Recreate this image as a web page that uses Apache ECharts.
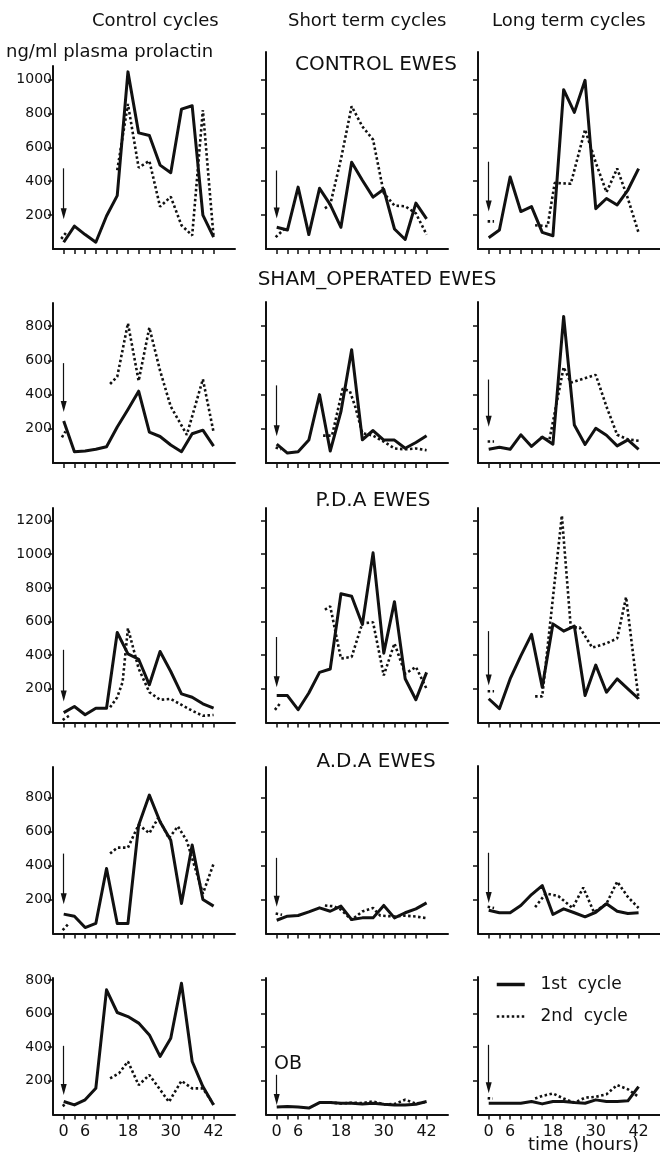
<!DOCTYPE html>
<html><head><meta charset="utf-8">
<script src="https://cdn.jsdelivr.net/npm/echarts@6/dist/echarts.min.js"></script>
<style>html,body{margin:0;padding:0;background:#fff}#c{width:660px;height:1154px}</style>
</head><body><div id="c"></div>
<script>
// ---------- DATA ----------
const HOURS = [0,3,6,9,12,15,18,21,24,27,30,33,36,39,42];
const X_TICKS = HOURS;
const X_LABELS = [0,6,18,30,42];
const COLUMN_TITLES = ['Control cycles','Short term cycles','Long term cycles'];
const GROUP_TITLES = ['CONTROL EWES','SHAM_OPERATED EWES','P.D.A EWES','A.D.A EWES','OB'];
const Y_TITLE = 'ng/ml plasma prolactin';
const X_TITLE = 'time (hours)';
const SERIES_NAMES = ['1st cycle','2nd cycle'];
const Y_TICKS = [[200,400,600,800,1000],[200,400,600,800],[200,400,600,800,1000,1200],[200,400,600,800],[200,400,600,800]];

// Control ewes (1st cycle on HOURS; 2nd cycle as [hour, value], null = gap)
const controlCtrl1 = [40,135,85,40,195,315,1045,685,670,495,450,825,845,200,70];
const controlCtrl2 = [[-0.7,60],[0.8,100],null,[15,465],[18,855],[21,480],[24,520],[27,250],[30,308],[33,140],[36,80],[39,820],[42,70]];
const controlShort1 = [128,112,365,85,358,262,128,512,406,306,352,118,56,271,178];
const controlShort2 = [[-0.3,70],[2.5,125],null,[13.5,240],[15,262],[18,530],[21,842],[24,723],[27,645],[30,330],[33,256],[36,252],[39,210],[42,85]];
const controlLong1 = [66,112,425,221,250,98,78,940,806,995,238,298,260,348,474];
const controlLong2 = [[-0.3,163],[1.5,163],null,[13,140],[16.5,135],[18.5,390],[23,385],[27,705],[30,510],[33,335],[36,475],[39,298],[42,96]];

// Sham-operated ewes
const shamCtrl1 = [245,66,70,80,95,210,313,420,180,155,105,66,171,192,99];
const shamCtrl2 = [[-0.5,150],[0.5,185],null,[13,462],[15,505],[18,817],[21,480],[24,792],[27,540],[30,330],[34.5,165],[39,490],[42,180]];
const shamShort1 = [110,58,66,134,400,70,300,662,136,190,134,134,86,120,160];
const shamShort2 = [[-0.3,90],[1.2,80],null,[13,160],[15.5,160],[18.5,435],[20.5,420],[22,330],[24,175],[27,160],[30,125],[33,85],[36,80],[39,85],[42,75]];
const shamLong1 = [80,92,80,165,97,152,110,857,222,108,203,162,100,135,80];
const shamLong2 = [[-0.3,126],[1.5,126],null,[14.5,150],[17,135],[21,560],[23,470],[30,515],[33,330],[36,165],[39,138],[42,130]];

// P.D.A ewes
const pdaCtrl1 = [59,95,46,85,85,535,408,376,224,422,303,170,150,111,85];
const pdaCtrl2 = [[-0.3,15],[1.5,40],null,[13,90],[15,150],[16.5,240],[18,560],[21,320],[24,180],[27,135],[30,140],[33,105],[36,70],[39,40],[42,45]];
const pdaShort1 = [160,160,76,175,298,318,765,750,582,1008,412,718,260,135,298];
const pdaShort2 = [[-0.5,75],[1,115],null,[13.5,670],[15,690],[18,380],[21,390],[24,590],[27,595],[30,280],[33,470],[36,290],[39,330],[42,200]];
const pdaLong1 = [141,82,259,396,524,210,586,543,573,161,341,180,259,200,141];
const pdaLong2 = [[-0.3,186],[1.5,186],null,[13,155],[15,155],[20.5,1230],[23,565],[25.5,565],[29,445],[33,470],[36,500],[38.5,745],[42,140]];

// A.D.A ewes
const adaCtrl1 = [114,102,35,59,382,59,59,637,814,657,549,176,520,200,161];
const adaCtrl2 = [[-0.3,20],[1.5,60],null,[13,470],[15,505],[18,505],[21,640],[24,590],[26.5,680],[29.5,560],[32,630],[34.5,545],[39,235],[42,410]];
const adaShort1 = [78,102,106,127,151,131,161,82,92,92,165,92,122,145,180];
const adaShort2 = [[-0.3,118],[1.5,110],null,[13.5,165],[16,160],[18,140],[21,80],[24,130],[27,150],[29,105],[33,100],[36,105],[39,100],[42,90]];
const adaLong1 = [137,122,122,165,229,282,112,145,122,98,125,175,131,118,122];
const adaLong2 = [[-0.3,157],[1.5,150],null,[13,155],[16,235],[19.5,220],[23.5,150],[26.5,270],[29.5,125],[33,175],[36,305],[39,215],[42,150]];

// OB ewes
const obCtrl1 = [77,57,87,156,741,606,582,543,473,345,453,780,315,166,57];
const obCtrl2 = [[-0.3,50],[1,70],null,[13,215],[15.5,245],[18,315],[21,175],[24,235],[29.5,75],[33,200],[36,155],[39,155],[42,60]];
const obShort1 = [44,48,44,38,71,71,67,67,63,67,61,57,57,61,77];
const obShort2 = [[12,70],[15,72],[18,65],[21,70],[24,68],[27,78],[30,60],[33,62],[36,88],[39,65],[42,75]];
const obLong1 = [67,67,67,67,77,63,77,77,71,67,87,77,77,81,166];
const obLong2 = [[-0.3,97],[1.2,95],null,[13,95],[15,110],[18,125],[21,95],[24,70],[27,100],[30,105],[33,120],[36,175],[39,150],[42,105]];

// Arrow markers at hour 0 (start value -> tip value)
const ARROW_FROM = [[476,463,515],[584,454,488],[432,508,543],[470,445,475],[408,236,414]];
const ARROW_TO   = [[176,180,222],[299,157,212],[125,210,220],[173,157,180],[117,57,127]];

const FIRST = [
  [controlCtrl1, controlShort1, controlLong1],
  [shamCtrl1, shamShort1, shamLong1],
  [pdaCtrl1, pdaShort1, pdaLong1],
  [adaCtrl1, adaShort1, adaLong1],
  [obCtrl1, obShort1, obLong1]
];
const SECOND = [
  [controlCtrl2, controlShort2, controlLong2],
  [shamCtrl2, shamShort2, shamLong2],
  [pdaCtrl2, pdaShort2, pdaLong2],
  [adaCtrl2, adaShort2, adaLong2],
  [obCtrl2, obShort2, obLong2]
];

// ---------- LAYOUT ----------
const COL_X = [53, 266, 478];
const PLOT_W = 182;
const ROW_ZERO = [249, 463, 722.5, 933.5, 1114.5];
const ROW_K = [0.1695, 0.171, 0.1683, 0.170, 0.1683];
const PANEL_TOP = [[66,52,52],[303,302,302],[508,508,508],[767,767,766],[978,978,977]];
const INK = '#111';
const FONT = "'DejaVu Sans', sans-serif";
// narrow filled arrow head inside a square box (pointing along the line)
const ARROW_HEAD = 'path://M0,0 M11,11 M5.5,0 L8.5,11 L2.5,11 Z';

const grid = [], xAxis = [], yAxis = [], series = [];
let idx = 0;
for (let r = 0; r < 5; r++) {
  for (let c = 0; c < 3; c++) {
    const top = PANEL_TOP[r][c];
    const h = ROW_ZERO[r] - top;
    grid.push({left: COL_X[c], top: top, width: PLOT_W, height: h});
    xAxis.push({
      gridIndex: idx, type: 'value', min: -3, max: 48,
      axisLine: {show: true, onZero: false, lineStyle: {color: INK, width: 2}},
      axisTick: {show: true, customValues: X_TICKS, length: 5, lineStyle: {color: INK, width: 1.5}},
      axisLabel: {show: r === 4, customValues: X_LABELS, margin: 9, fontSize: 16, color: INK, fontFamily: FONT, formatter: v => String(v)},
      splitLine: {show: false}
    });
    yAxis.push({
      gridIndex: idx, type: 'value', min: 0, max: h / ROW_K[r],
      axisLine: {show: true, onZero: false, lineStyle: {color: INK, width: 2}},
      axisTick: {show: true, customValues: Y_TICKS[r], length: 5, lineStyle: {color: INK, width: 1.5}},
      axisLabel: {show: c === 0, customValues: Y_TICKS[r], margin: 1, fontSize: 14, color: INK, fontFamily: FONT, formatter: v => String(v)},
      splitLine: {show: false}
    });
    series.push({
      type: 'line', name: SERIES_NAMES[0], xAxisIndex: idx, yAxisIndex: idx,
      data: HOURS.map((hh, k) => [hh, FIRST[r][c][k]]),
      symbol: 'none', color: INK, silent: true,
      lineStyle: {color: INK, width: 3, join: 'round'},
      emphasis: {disabled: true}, z: 3,
      markLine: {
        silent: true, animation: false,
        symbol: ['none', ARROW_HEAD], symbolSize: 11,
        itemStyle: {color: INK},
        lineStyle: {color: INK, width: 1.2, type: 'solid'},
        label: {show: false}, emphasis: {disabled: true},
        data: [[{coord: [0, ARROW_FROM[r][c]]}, {coord: [0, ARROW_TO[r][c] + 32]}]]
      }
    });
    series.push({
      type: 'line', name: SERIES_NAMES[1], xAxisIndex: idx, yAxisIndex: idx,
      data: SECOND[r][c].map(p => p === null ? ['-', '-'] : p),
      connectNulls: false, symbol: 'none', color: INK, silent: true,
      lineStyle: {color: INK, width: 2.6, type: [2.5, 2.5]},
      emphasis: {disabled: true}, z: 2
    });
    idx++;
  }
}

const tStyle = (size) => ({fontSize: size, fontWeight: 'normal', color: INK, fontFamily: FONT});
const title = [
  {text: COLUMN_TITLES[0], left: 92, top: 12, padding: 0, textStyle: tStyle(18)},
  {text: COLUMN_TITLES[1], left: 288, top: 12, padding: 0, textStyle: tStyle(18)},
  {text: COLUMN_TITLES[2], left: 492, top: 12, padding: 0, textStyle: tStyle(18)},
  {text: Y_TITLE, left: 6, top: 43, padding: 0, textStyle: tStyle(18)},
  {text: GROUP_TITLES[0], left: 376, textAlign: 'center', top: 55, padding: 0, textStyle: tStyle(20)},
  {text: GROUP_TITLES[1], left: 377, textAlign: 'center', top: 270, padding: 0, textStyle: tStyle(20)},
  {text: GROUP_TITLES[2], left: 373, textAlign: 'center', top: 491, padding: 0, textStyle: tStyle(20)},
  {text: GROUP_TITLES[3], left: 376, textAlign: 'center', top: 752, padding: 0, textStyle: tStyle(20)},
  {text: GROUP_TITLES[4], left: 274, top: 1055, padding: 0, textStyle: tStyle(19)},
  {text: X_TITLE, left: 528, top: 1136, padding: 0, textStyle: tStyle(18)}
];

const chart = echarts.init(document.getElementById('c'), null, {renderer: 'canvas'});
chart.setOption({
  animation: false,
  backgroundColor: '#fff',
  textStyle: {fontFamily: FONT},
  title: title,
  legend: {
    data: [
      {name: SERIES_NAMES[0], lineStyle: {width: 3.5}},
      {name: SERIES_NAMES[1], lineStyle: {width: 2.6}}
    ],
    orient: 'vertical', left: 495, top: 976, padding: 0,
    itemWidth: 28, itemHeight: 14, itemGap: 15, selectedMode: false,
    itemStyle: {opacity: 0},
    formatter: n => '  ' + n.replace(' ', '  '),
    textStyle: {fontSize: 17, color: INK, fontFamily: FONT}
  },
  grid: grid, xAxis: xAxis, yAxis: yAxis, series: series
});
</script></body></html>
